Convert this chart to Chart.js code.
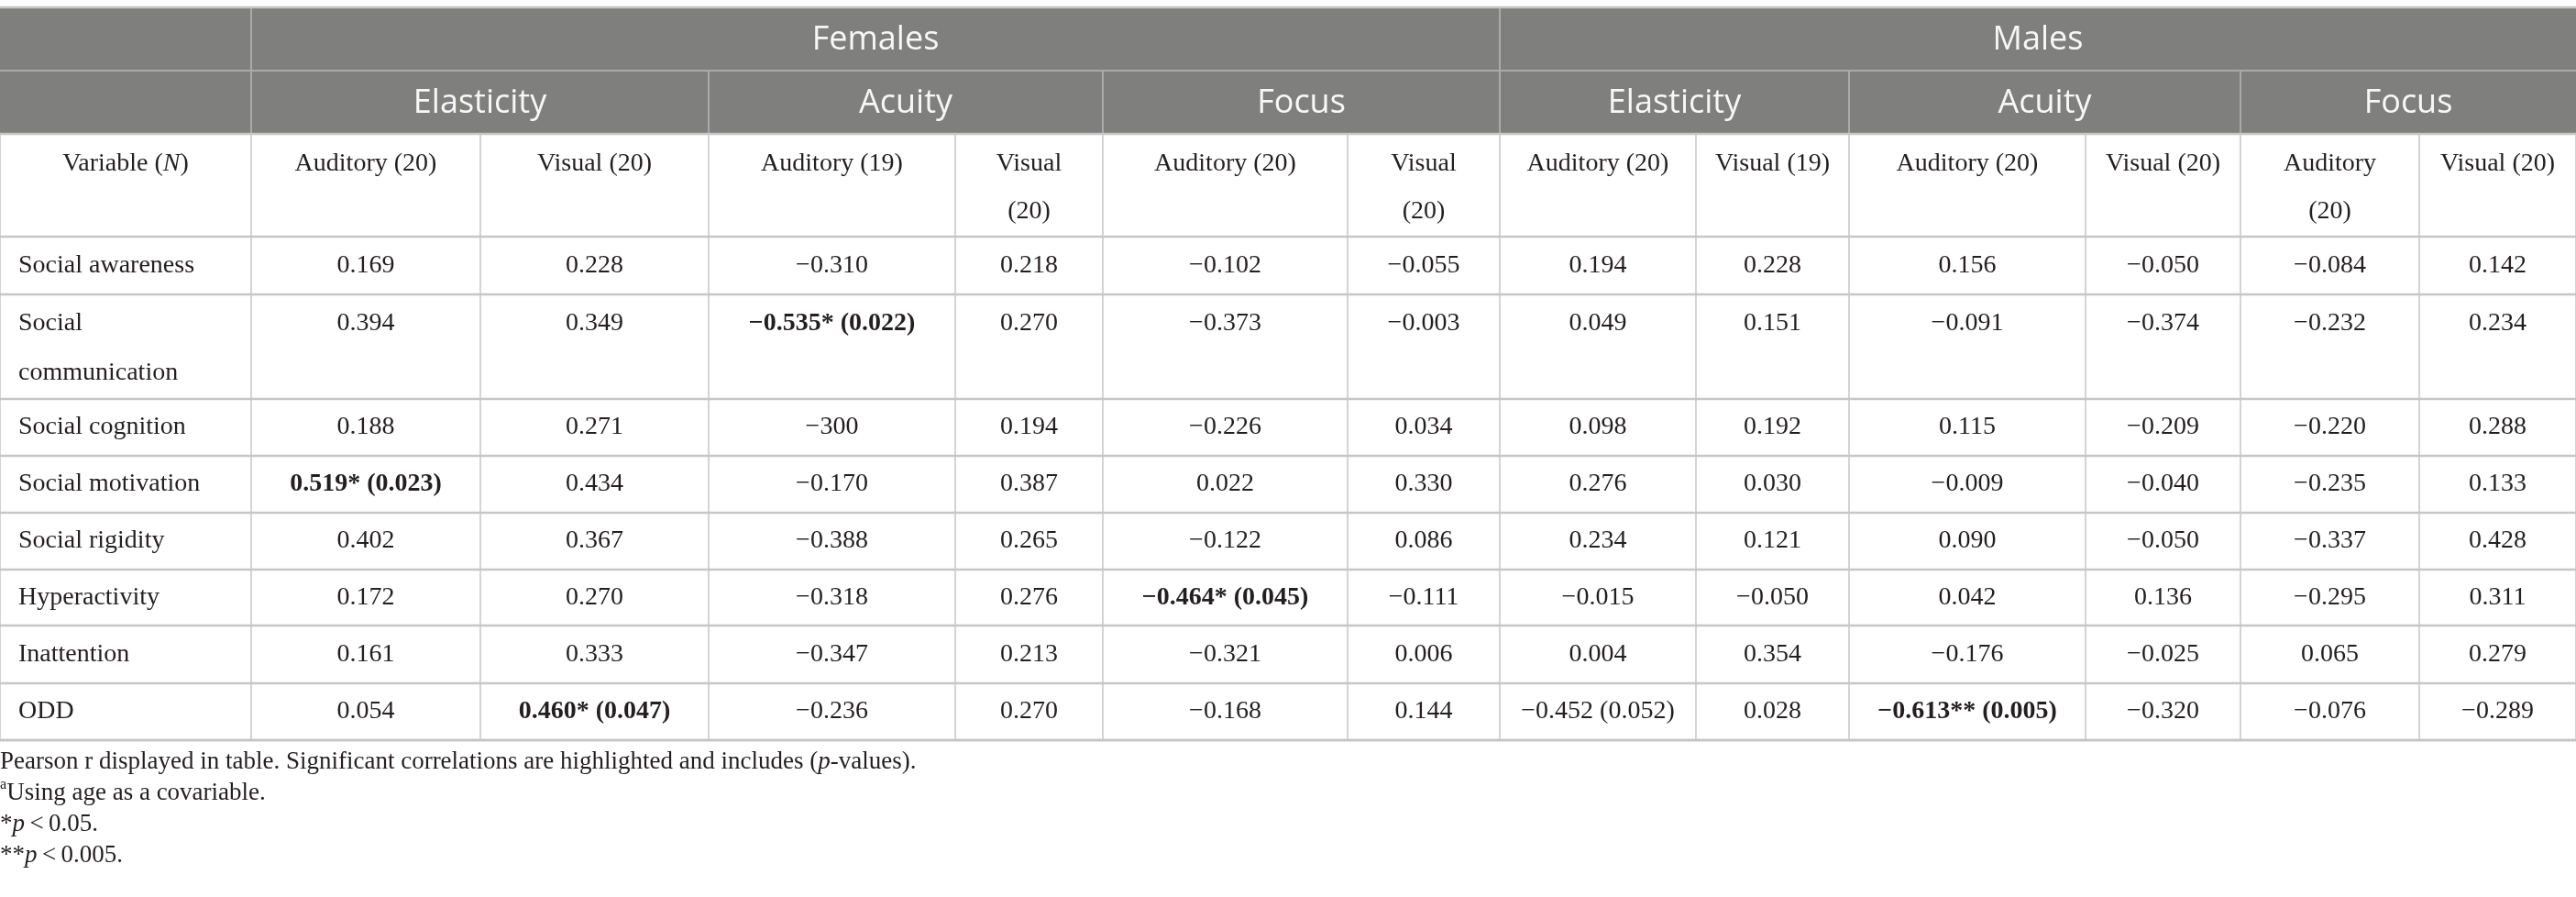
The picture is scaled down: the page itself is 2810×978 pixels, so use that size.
<!DOCTYPE html>
<html><head><meta charset="utf-8">
<script src="https://cdn.jsdelivr.net/npm/chart.js@4.4.1/dist/chart.umd.min.js"></script>
<style>html,body{margin:0;padding:0;background:#fff;overflow:hidden}#wrap{width:2810px;height:978px;position:relative}</style>
</head><body><div id="wrap"><canvas id="c" width="2810" height="978"></canvas></div>
<script>
// ---------- DATA ----------
const variables = ["Social awareness","Social\ncommunication","Social cognition","Social motivation","Social rigidity","Hyperactivity","Inattention","ODD"];
const groupLabels = ["Females","Males"];
const measureLabels = ["Elasticity","Acuity","Focus","Elasticity","Acuity","Focus"];
const variableHeader = "Variable (_N_)";
const columnLabels = ["Auditory (20)","Visual (20)","Auditory (19)","Visual\n(20)","Auditory (20)","Visual\n(20)","Auditory (20)","Visual (19)","Auditory (20)","Visual (20)","Auditory\n(20)","Visual (20)"];

const femalesElasticityAuditory = ["0.169","0.394","0.188","0.519* (0.023)","0.402","0.172","0.161","0.054"];
const femalesElasticityVisual   = ["0.228","0.349","0.271","0.434","0.367","0.270","0.333","0.460* (0.047)"];
const femalesAcuityAuditory     = ["−0.310","−0.535* (0.022)","−300","−0.170","−0.388","−0.318","−0.347","−0.236"];
const femalesAcuityVisual       = ["0.218","0.270","0.194","0.387","0.265","0.276","0.213","0.270"];
const femalesFocusAuditory      = ["−0.102","−0.373","−0.226","0.022","−0.122","−0.464* (0.045)","−0.321","−0.168"];
const femalesFocusVisual        = ["−0.055","−0.003","0.034","0.330","0.086","−0.111","0.006","0.144"];
const malesElasticityAuditory   = ["0.194","0.049","0.098","0.276","0.234","−0.015","0.004","−0.452 (0.052)"];
const malesElasticityVisual     = ["0.228","0.151","0.192","0.030","0.121","−0.050","0.354","0.028"];
const malesAcuityAuditory       = ["0.156","−0.091","0.115","−0.009","0.090","0.042","−0.176","−0.613** (0.005)"];
const malesAcuityVisual         = ["−0.050","−0.374","−0.209","−0.040","−0.050","0.136","−0.025","−0.320"];
const malesFocusAuditory        = ["−0.084","−0.232","−0.220","−0.235","−0.337","−0.295","0.065","−0.076"];
const malesFocusVisual          = ["0.142","0.234","0.288","0.133","0.428","0.311","0.279","−0.289"];

const footnotes = [
  "Pearson r displayed in table. Significant correlations are highlighted and includes (_p_-values).",
  "^a^Using age as a covariable.",
  "*_p_\u2009<\u20090.05.",
  "**_p_\u2009<\u20090.005."
];

// ---------- LAYOUT (table geometry in scale units) ----------
const colEdges = [0,274,524,773,1042,1203,1470,1636,1850,2017,2275,2444,2639,2810];
const rowEdges = [8,77,146,258,321,435,497,559,621,682,745,807];
const groupSpans = [[1,7],[7,13]];
const measureSpans = [[1,3],[3,5],[5,7],[7,9],[9,11],[11,13]];
const footnoteRows = [831,865,899,933];

const seriesList = [femalesElasticityAuditory,femalesElasticityVisual,femalesAcuityAuditory,femalesAcuityVisual,
  femalesFocusAuditory,femalesFocusVisual,malesElasticityAuditory,malesElasticityVisual,malesAcuityAuditory,
  malesAcuityVisual,malesFocusAuditory,malesFocusVisual];

const SERIF = '"Liberation Serif","Times New Roman",serif';
const SANS = '"Open Sans","Noto Sans",sans-serif';
const HEADER_BG = '#7f807e';
const TEXT = '#231f20';

function mid(a,b){return (a+b)/2;}
const bodyTop = 3; // row edge index where body starts
function cellTop(r){return rowEdges[bodyTop+r];}
function cellBot(r){return rowEdges[bodyTop+r+1];}

// datasets: one per data column, points at cell centres (via scales)
const datasets = seriesList.map((vals,ci)=>({
  label: columnLabels[ci],
  data: vals.map((v,ri)=>({x: mid(colEdges[ci+1],colEdges[ci+2]), y: mid(cellTop(ri),cellBot(ri)), text: v})),
  pointRadius: 0, showLine: false
}));
datasets.unshift({
  label: 'Variable',
  data: variables.map((v,ri)=>({x: colEdges[0], y: mid(cellTop(ri),cellBot(ri)), text: v})),
  pointRadius: 0, showLine: false
});

// rich text: _italic_, ^superscript^
function parseRuns(s){
  const runs=[]; let re=/(_[^_]+_|\^[^\^]+\^)/g; let last=0,m;
  while((m=re.exec(s))){ if(m.index>last) runs.push({t:s.slice(last,m.index)});
    const tok=m[0]; if(tok[0]==='_') runs.push({t:tok.slice(1,-1),it:true}); else runs.push({t:tok.slice(1,-1),sup:true});
    last=re.lastIndex;}
  if(last<s.length) runs.push({t:s.slice(last)});
  return runs;
}
function fontFor(run,size,bold,fam){
  const sz = run.sup? size*0.6 : size;
  return (run.it?'italic ':'')+(bold?'bold ':'')+sz+'px '+fam;
}
function drawRich(ctx,s,x,y,size,align,bold,fam){
  const runs=parseRuns(s); let w=0;
  runs.forEach(r=>{ctx.font=fontFor(r,size,bold,fam); r.w=ctx.measureText(r.t).width; w+=r.w;});
  let cx = align==='center'? x-w/2 : x;
  ctx.textAlign='left';
  runs.forEach(r=>{ctx.font=fontFor(r,size,bold,fam); ctx.fillText(r.t,cx,r.sup? y-size*0.35 : y); cx+=r.w;});
}

const tablePlugin = {
  id:'table',
  beforeDatasetsDraw(chart){
    const ctx=chart.ctx, xs=chart.scales.x, ys=chart.scales.y;
    const X=v=>xs.getPixelForValue(v), Y=v=>ys.getPixelForValue(v);
    ctx.save();
    ctx.fillStyle='#fff'; ctx.fillRect(0,0,chart.width,chart.height);
    // header background
    ctx.fillStyle=HEADER_BG;
    ctx.fillRect(X(colEdges[0]),Y(rowEdges[0]),X(colEdges[13])-X(colEdges[0]),Y(rowEdges[2])-Y(rowEdges[0]));
    // header lines (lighter)
    ctx.strokeStyle='#a9aaa9'; ctx.lineWidth=2;
    const hl=(x1,y1,x2,y2)=>{ctx.beginPath();ctx.moveTo(X(x1),Y(y1));ctx.lineTo(X(x2),Y(y2));ctx.stroke();};
    hl(colEdges[0],rowEdges[1],colEdges[13],rowEdges[1]);
    hl(colEdges[1],rowEdges[0],colEdges[1],rowEdges[2]);
    hl(colEdges[7],rowEdges[0],colEdges[7],rowEdges[2]);
    measureSpans.forEach(s=>{hl(colEdges[s[0]],rowEdges[1],colEdges[s[0]],rowEdges[2]);});
    // body grid
    ctx.strokeStyle='#c6c6c6';
    ctx.lineWidth=1.5;
    for(let c=0;c<colEdges.length;c++){ hl(colEdges[c],rowEdges[2],colEdges[c],rowEdges[rowEdges.length-1]); }
    ctx.lineWidth=2.5;
    hl(colEdges[0],rowEdges[0],colEdges[13],rowEdges[0]);
    for(let r=2;r<rowEdges.length;r++){ ctx.lineWidth = (r===rowEdges.length-1)?3:2.5; hl(colEdges[0],rowEdges[r],colEdges[13],rowEdges[r]); }
    ctx.restore();
  },
  afterDatasetsDraw(chart){
    const ctx=chart.ctx, xs=chart.scales.x, ys=chart.scales.y;
    const X=v=>xs.getPixelForValue(v), Y=v=>ys.getPixelForValue(v);
    ctx.save();
    ctx.textBaseline='middle';
    // group headers
    ctx.fillStyle='#f7f7f7';
    groupSpans.forEach((s,i)=>drawRich(ctx,groupLabels[i],mid(X(colEdges[s[0]]),X(colEdges[s[1]])),mid(Y(rowEdges[0]),Y(rowEdges[1]))+1,36,'center',false,SANS));
    measureSpans.forEach((s,i)=>drawRich(ctx,measureLabels[i],mid(X(colEdges[s[0]]),X(colEdges[s[1]])),mid(Y(rowEdges[1]),Y(rowEdges[2]))+1,36,'center',false,SANS));
    // column header row
    ctx.fillStyle=TEXT;
    const hTop=Y(rowEdges[2]);
    drawRich(ctx,variableHeader,mid(X(colEdges[0]),X(colEdges[1])),hTop+33,28,'center',false,SERIF);
    columnLabels.forEach((lab,i)=>{
      lab.split('\n').forEach((ln,k)=>drawRich(ctx,ln,mid(X(colEdges[i+1]),X(colEdges[i+2])),hTop+33+k*52,28,'center',false,SERIF));
    });
    // body cells from dataset elements
    chart.data.datasets.forEach((ds,di)=>{
      const meta=chart.getDatasetMeta(di);
      meta.data.forEach((el,ri)=>{
        const txt=ds.data[ri].text; const lines=txt.split('\n');
        const bold=txt.indexOf('*')>=0;
        const top=Y(cellTop(ri)), bot=Y(cellBot(ri));
        const multi = (bot-top)>80;
        const yy = multi? top+32 : el.y;
        if(di===0){
          lines.forEach((ln,k)=>drawRich(ctx,ln,el.x+20,(lines.length>1||multi? top+32+k*54 : el.y),28,'left',bold,SERIF));
        } else {
          drawRich(ctx,txt,el.x,yy,28,'center',bold,SERIF);
        }
      });
    });
    // footnotes
    footnotes.forEach((f,i)=>drawRich(ctx,f,X(0),Y(footnoteRows[i]),27,'left',false,SERIF));
    ctx.restore();
  }
};

new Chart(document.getElementById('c'),{
  type:'scatter',
  data:{datasets},
  options:{
    responsive:false, animation:false, devicePixelRatio:1,
    layout:{padding:0},
    plugins:{legend:{display:false},tooltip:{enabled:false},title:{display:false}},
    scales:{
      x:{type:'linear',min:0,max:2810,display:false},
      y:{type:'linear',min:0,max:978,reverse:true,display:false}
    }
  },
  plugins:[tablePlugin]
});
</script></body></html>
